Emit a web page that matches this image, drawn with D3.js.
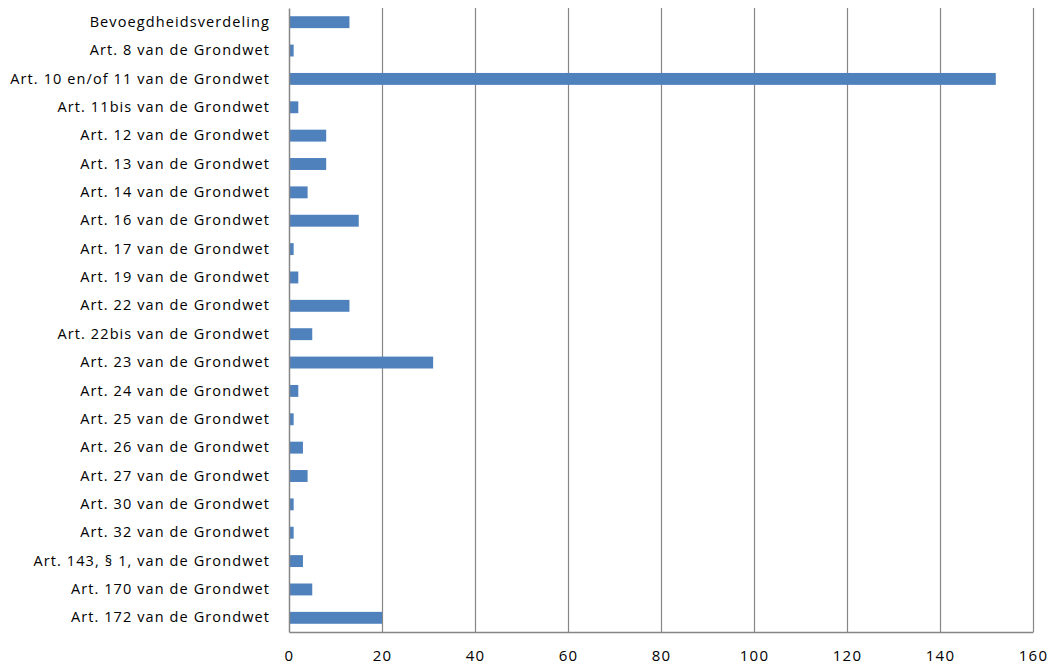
<!DOCTYPE html>
<html>
<head>
<meta charset="utf-8">
<script src="https://cdn.jsdelivr.net/npm/d3@7"></script>
<style>
  body { margin: 0; background: #fff; }
  text { font-family: "Open Sans", sans-serif; fill: #000; }
</style>
</head>
<body>
<div class="container"></div>
<script>
const w = 1052;
const h = 668;
const margin = { top: 8, bottom: 36, left: 289, right: 19 };
const width = w - margin.left - margin.right;
const height = h - margin.top - margin.bottom;

const categories = [
  'Bevoegdheidsverdeling',
  'Art. 8 van de Grondwet',
  'Art. 10 en/of 11 van de Grondwet',
  'Art. 11bis van de Grondwet',
  'Art. 12 van de Grondwet',
  'Art. 13 van de Grondwet',
  'Art. 14 van de Grondwet',
  'Art. 16 van de Grondwet',
  'Art. 17 van de Grondwet',
  'Art. 19 van de Grondwet',
  'Art. 22 van de Grondwet',
  'Art. 22bis van de Grondwet',
  'Art. 23 van de Grondwet',
  'Art. 24 van de Grondwet',
  'Art. 25 van de Grondwet',
  'Art. 26 van de Grondwet',
  'Art. 27 van de Grondwet',
  'Art. 30 van de Grondwet',
  'Art. 32 van de Grondwet',
  'Art. 143, § 1, van de Grondwet',
  'Art. 170 van de Grondwet',
  'Art. 172 van de Grondwet'
];
const values = [13, 1, 152, 2, 8, 8, 4, 15, 1, 2, 13, 5, 31, 2, 1, 3, 4, 1, 1, 3, 5, 20];
const xTicks = [0, 20, 40, 60, 80, 100, 120, 140, 160];

const svg = d3.select('.container').append('svg')
  .attr('width', w)
  .attr('height', h);

const chart = svg.append('g')
  .attr('transform', `translate(${margin.left}, ${margin.top})`);

const x = d3.scaleLinear()
  .domain([0, 160])
  .range([0, width]);

const y = d3.scaleBand()
  .domain(categories)
  .range([0, height])
  .paddingInner(0.58)
  .paddingOuter(0.29);

// vertical gridlines
chart.append('g')
  .selectAll('line')
  .data(xTicks.slice(1))
  .enter().append('line')
  .attr('x1', d => x(d) + 0.5)
  .attr('x2', d => x(d) + 0.5)
  .attr('y1', 0)
  .attr('y2', height)
  .attr('stroke', '#868686')
  .attr('stroke-width', 1.2);

chart.append('g')
  .selectAll('rect')
  .data(values)
  .enter().append('rect')
  .attr('x', x(0))
  .attr('y', (d, i) => y(categories[i]))
  .attr('width', d => x(d) - x(0))
  .attr('height', y.bandwidth())
  .attr('fill', '#4f81bd');

const xAxis = d3.axisBottom(x)
  .tickValues(xTicks)
  .tickSize(0)
  .tickPadding(18);

chart.append('g')
  .attr('transform', `translate(0, ${height})`)
  .call(xAxis)
  .call(g => g.select('.domain').attr('stroke', '#868686').attr('stroke-width', 1.5))
  .call(g => g.selectAll('text')
    .attr('font-size', 15)
    .attr('letter-spacing', '1.2px')
    .attr('font-family', '"Open Sans", sans-serif')
    .attr('fill', '#000'));

const yAxis = d3.axisLeft(y)
  .tickSize(0)
  .tickPadding(19);

chart.append('g')
  .call(yAxis)
  .call(g => g.select('.domain').attr('stroke', '#868686').attr('stroke-width', 1.5))
  .call(g => g.selectAll('text')
    .attr('font-size', 14.5)
    .attr('letter-spacing', '1.1px')
    .attr('font-family', '"Open Sans", sans-serif')
    .attr('fill', '#000'));
</script>
</body>
</html>
